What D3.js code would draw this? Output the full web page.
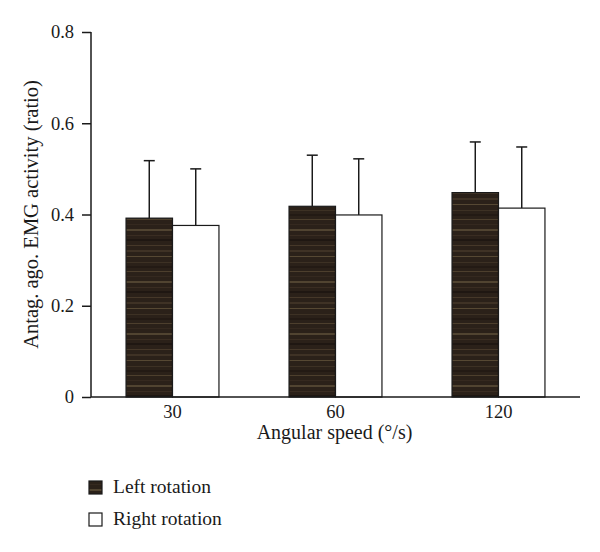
<!DOCTYPE html>
<html>
<head>
<meta charset="utf-8">
<script src="https://cdn.jsdelivr.net/npm/d3@7"></script>
<style>
  body { margin: 0; background: #fff; }
  svg { display: block; font-family: "Liberation Serif", "DejaVu Serif", serif; }
</style>
</head>
<body>
<svg id="chart" width="600" height="552"></svg>
<script>
// data
const speeds = ['30', '60', '120'];
const seriesNames = ['Left rotation', 'Right rotation'];
const leftMeans = [0.392, 0.418, 0.448];
const leftSD = [0.126, 0.112, 0.111];
const rightMeans = [0.376, 0.399, 0.414];
const rightSD = [0.124, 0.123, 0.134];
const yTicks = [0, 0.2, 0.4, 0.6, 0.8];

const svg = d3.select('#chart');
const plotLeft = 91, plotRight = 580, plotTop = 32, plotBottom = 397;

// striped dark-brown fill for left rotation bars
const defs = svg.append('defs');
const pat = defs.append('pattern')
  .attr('id', 'wood')
  .attr('patternUnits', 'userSpaceOnUse')
  .attr('width', 60).attr('height', 52);
pat.append('rect').attr('width', 60).attr('height', 52).attr('fill', '#2b2119');
const stripes = [[2, 1, '#3d3124'], [6, 2, '#231a14'], [11, 1, '#4d3f2d'], [16, 1, '#35291f'],
  [21, 2, '#514431'], [27, 1, '#3a2d22'], [31, 2, '#1f1712'], [37, 1, '#463829'],
  [42, 2, '#3f3225'], [48, 1, '#564833']];
stripes.forEach(s => {
  pat.append('rect').attr('x', 0).attr('y', s[0]).attr('width', 60).attr('height', s[1]).attr('fill', s[2]);
});

const x0 = d3.scaleBand().domain(speeds).range([plotLeft, plotRight]).paddingInner(0.43).paddingOuter(0.215);
const x1 = d3.scaleBand().domain(seriesNames).range([0, x0.bandwidth()]);
const y = d3.scaleLinear().domain([0, 0.8]).range([plotBottom, plotTop]);

const data = [];
speeds.forEach((s, i) => {
  data.push({ speed: s, series: seriesNames[0], mean: leftMeans[i], sd: leftSD[i] });
  data.push({ speed: s, series: seriesNames[1], mean: rightMeans[i], sd: rightSD[i] });
});
const fillFor = name => name === seriesNames[0] ? 'url(#wood)' : '#fff';

// error bars (upper only) behind bars
const eb = svg.append('g').attr('stroke', '#1a1a1a').attr('stroke-width', 1.5);
data.forEach(d => {
  const cx = x0(d.speed) + x1(d.series) + x1.bandwidth() / 2;
  eb.append('line').attr('x1', cx).attr('x2', cx).attr('y1', y(d.mean)).attr('y2', y(d.mean + d.sd));
  eb.append('line').attr('x1', cx - 5.5).attr('x2', cx + 5.5).attr('y1', y(d.mean + d.sd)).attr('y2', y(d.mean + d.sd));
});

svg.append('g').selectAll('rect')
  .data(data)
  .enter().append('rect')
  .attr('x', d => x0(d.speed) + x1(d.series))
  .attr('y', d => y(d.mean))
  .attr('width', x1.bandwidth())
  .attr('height', d => y(0) - y(d.mean))
  .attr('fill', d => fillFor(d.series))
  .attr('stroke', '#1a1a1a')
  .attr('stroke-width', 1.2);

// y axis
const yAxis = svg.append('g')
  .attr('transform', `translate(${plotLeft},0)`)
  .call(d3.axisLeft(y).tickValues(yTicks).tickSize(9).tickPadding(8)
    .tickFormat(d => d === 0 ? '0' : d3.format('.1f')(d)));
yAxis.select('.domain').remove();
yAxis.append('line').attr('x1', 0).attr('x2', 0).attr('y1', plotTop).attr('y2', plotBottom)
  .attr('stroke', '#1a1a1a').attr('stroke-width', 1.5);
yAxis.selectAll('.tick line').attr('stroke', '#1a1a1a').attr('stroke-width', 1.5);
yAxis.selectAll('.tick text').attr('fill', '#1a1a1a').style('font-size', '18.5px')
  .style('font-family', '"Liberation Serif", serif');

// x axis
const xAxis = svg.append('g')
  .attr('transform', `translate(0,${plotBottom})`)
  .call(d3.axisBottom(x0).tickSize(0).tickPadding(8));
xAxis.select('.domain').remove();
xAxis.append('line').attr('x1', plotLeft).attr('x2', plotRight).attr('y1', 0).attr('y2', 0)
  .attr('stroke', '#1a1a1a').attr('stroke-width', 1.5);
xAxis.selectAll('.tick text').attr('fill', '#1a1a1a').style('font-size', '18.5px')
  .style('font-family', '"Liberation Serif", serif');

// axis titles
svg.append('text')
  .attr('x', (plotLeft + plotRight) / 2 - 1)
  .attr('y', 439)
  .attr('text-anchor', 'middle')
  .style('font-size', '20px')
  .attr('fill', '#1a1a1a')
  .text('Angular speed (°/s)');

svg.append('text')
  .attr('transform', `translate(38,${(plotTop + plotBottom) / 2}) rotate(-90)`)
  .attr('text-anchor', 'middle')
  .style('font-size', '20.5px')
  .attr('fill', '#1a1a1a')
  .text('Antag. ago. EMG activity (ratio)');

// legend
const legend = svg.append('g');
seriesNames.forEach((name, i) => {
  const ly = 481 + i * 32;
  legend.append('rect')
    .attr('x', 89).attr('y', ly)
    .attr('width', 13).attr('height', 13)
    .attr('fill', fillFor(name))
    .attr('stroke', '#1a1a1a').attr('stroke-width', 1.2);
  legend.append('text')
    .attr('x', 113).attr('y', ly + 12)
    .style('font-size', '19.5px')
    .attr('fill', '#1a1a1a')
    .text(name);
});
</script>
</body>
</html>
